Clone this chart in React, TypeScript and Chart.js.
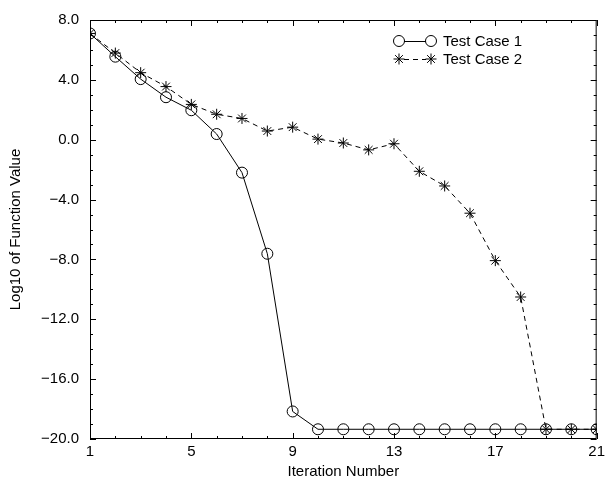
import React, { useEffect, useRef } from "react";
import { Chart, registerables } from "chart.js";
import { drawPoint } from "chart.js/helpers";

Chart.register(...registerables);

const iterations = [1, 2, 3, 4, 5, 6, 7, 8, 9, 10, 11, 12, 13, 14, 15, 16, 17, 18, 19, 20, 21];
const testCase1 = [7.1, 5.55, 4.05, 2.84, 1.97, 0.38, -2.2, -7.62, -18.16, -19.35, -19.35, -19.35, -19.35, -19.35, -19.35, -19.35, -19.35, -19.35, -19.35, -19.35, -19.35];
const testCase2 = [7.1, 5.79, 4.48, 3.55, 2.36, 1.7, 1.42, 0.58, 0.84, 0.04, -0.22, -0.68, -0.27, -2.11, -3.09, -4.91, -8.08, -10.51, -19.35, -19.35, -19.35];
const xTickLabels = [1, 5, 9, 13, 17, 21];
const yTickLabels = [-20, -16, -12, -8, -4, 0, 4, 8];
const seriesNames = ["Test Case 1", "Test Case 2"];

const FONT = "'Liberation Sans', Arial, Helvetica, sans-serif";

const axesPlugin = {
  id: "boxTicks",
  afterDraw(chart: any) {
    const { ctx, chartArea } = chart;
    const xs = chart.scales.x;
    const ys = chart.scales.y;
    ctx.save();
    ctx.strokeStyle = "#000";
    ctx.lineWidth = 1;
    ctx.setLineDash([]);
    ctx.strokeRect(chartArea.left + 0.5, chartArea.top + 0.5, chartArea.right - chartArea.left - 1, chartArea.bottom - chartArea.top - 1);
    ctx.beginPath();
    for (let v = xs.min; v <= xs.max; v++) {
      const px = Math.round(xs.getPixelForValue(v)) + 0.5;
      const len = xTickLabels.includes(v) ? 6 : 3;
      ctx.moveTo(px, chartArea.bottom);
      ctx.lineTo(px, chartArea.bottom - len);
      ctx.moveTo(px, chartArea.top);
      ctx.lineTo(px, chartArea.top + len);
    }
    for (let v = ys.min; v <= ys.max; v++) {
      const py = Math.round(ys.getPixelForValue(v)) + 0.5;
      const len = yTickLabels.includes(v) ? 6 : 3;
      ctx.moveTo(chartArea.left, py);
      ctx.lineTo(chartArea.left + len, py);
      ctx.moveTo(chartArea.right, py);
      ctx.lineTo(chartArea.right - len, py);
    }
    ctx.stroke();

    // legend
    const rows = [41, 59];
    chart.data.datasets.forEach((ds: any, i: number) => {
      const y = rows[i];
      const x1 = 399;
      const x2 = 431;
      ctx.strokeStyle = "#000";
      ctx.lineWidth = 1;
      ctx.setLineDash(ds.borderDash || []);
      ctx.beginPath();
      ctx.moveTo(x1 + 5, y + 0.5);
      ctx.lineTo(x2 - 5, y + 0.5);
      ctx.stroke();
      ctx.setLineDash([]);
      const style = {
        pointStyle: ds.pointStyle,
        radius: ds.pointRadius,
        borderWidth: 1,
        rotation: 0,
      };
      ctx.fillStyle = ds.pointBackgroundColor;
      ctx.strokeStyle = "#000";
      drawPoint(ctx, style, x1, y);
      ctx.fillStyle = ds.pointBackgroundColor;
      ctx.strokeStyle = "#000";
      drawPoint(ctx, style, x2, y);
      ctx.fillStyle = "#000";
      ctx.font = `15px ${FONT}`;
      ctx.textBaseline = "middle";
      ctx.textAlign = "left";
      ctx.fillText(ds.label, 443, y + 0.5);
    });
    ctx.restore();
  },
};

export default function App() {
  const ref = useRef<HTMLCanvasElement | null>(null);
  useEffect(() => {
    if (!ref.current) return;
    const chart = new Chart(ref.current, {
      type: "line",
      data: {
        datasets: [
          {
            label: seriesNames[0],
            data: iterations.map((x, i) => ({ x, y: testCase1[i] })),
            borderColor: "#000",
            borderWidth: 1,
            pointStyle: "circle",
            pointRadius: 5.5,
            pointBorderWidth: 1,
            pointBorderColor: "#000",
            pointBackgroundColor: "rgba(255,255,255,0)",
            tension: 0,
            order: 1,
          },
          {
            label: seriesNames[1],
            data: iterations.map((x, i) => ({ x, y: testCase2[i] })),
            borderColor: "#000",
            borderWidth: 1,
            borderDash: [5, 4],
            pointStyle: "star",
            pointRadius: 5.5,
            pointBorderWidth: 1,
            pointBorderColor: "#000",
            pointBackgroundColor: "#000",
            tension: 0,
            order: 0,
          },
        ],
      },
      options: {
        animation: false,
        responsive: false,
        layout: { autoPadding: false, padding: { left: 0, right: 6, top: 10, bottom: 0 } },
        plugins: { legend: { display: false }, tooltip: { enabled: false } },
        scales: {
          x: {
            type: "linear",
            min: 1,
            max: 21,
            grid: { display: false, drawTicks: false },
            border: { display: false },
            afterBuildTicks: (s: any) => {
              s.ticks = xTickLabels.map((v) => ({ value: v }));
            },
            afterFit: (s: any) => {
              s.height = 43;
            },
            ticks: {
              color: "#000",
              padding: 4,
              maxRotation: 0,
              autoSkip: false,
              font: { family: FONT, size: 15 },
              callback: (v: any) => String(v),
            },
            title: {
              display: true,
              text: "Iteration Number",
              color: "#000",
              font: { family: FONT, size: 15 },
              padding: { top: 1, bottom: 1 },
            },
          },
          y: {
            type: "linear",
            min: -20,
            max: 8,
            grid: { display: false, drawTicks: false },
            border: { display: false },
            afterBuildTicks: (s: any) => {
              s.ticks = yTickLabels.map((v) => ({ value: v }));
            },
            afterFit: (s: any) => {
              s.width = 90;
            },
            ticks: {
              color: "#000",
              padding: 11,
              autoSkip: false,
              font: { family: FONT, size: 15 },
              callback: (v: any) => Number(v).toFixed(1).replace("-", "\u2212"),
            },
            title: {
              display: true,
              text: "Log10 of Function Value",
              color: "#000",
              font: { family: FONT, size: 15 },
              padding: { top: 7, bottom: 0 },
            },
          },
        },
      },
      plugins: [axesPlugin],
    });
    return () => chart.destroy();
  }, []);
  return (
    <div style={{ position: "absolute", left: 0, top: 0, width: 609, height: 482, background: "#fff" }}>
      <canvas ref={ref} width={609} height={482} style={{ display: "block" }} />
    </div>
  );
}
